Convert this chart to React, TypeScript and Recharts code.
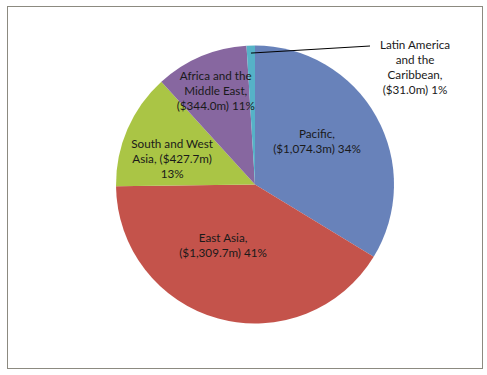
import { PieChart, Pie, Cell } from 'recharts'

// Aid by region, $m
const REGIONS = ['Pacific', 'East Asia', 'South and West Asia', 'Africa and the Middle East', 'Latin America and the Caribbean']
const AMOUNTS = [1074.3, 1309.7, 427.7, 344.0, 31.0]
const COLORS = ['#6882BA', '#C4534B', '#AAC545', '#8767A0', '#56B2C7']

// words per label line (Excel-style wrapping)
const WRAP = [[1, 2], [2, 2], [3, 2, 1], [3, 2, 2], [2, 2, 1, 2]]
// inside label placement: radius fraction, angle shift from slice middle
const LABEL_R = [0.545, 0.49, 0.626, 0.739]
const LABEL_SHIFT = [5.8, -12.6, 5.8, -0.5]

const data = REGIONS.map((name, i) => ({ name, value: AMOUNTS[i] }))
const FONT = 'Lato, "DejaVu Sans", sans-serif'
const LINE_H = 15
const RAD = Math.PI / 180

const fmt = (v: number) => v.toLocaleString('en-US', { minimumFractionDigits: 1, maximumFractionDigits: 1 })

function labelLines(index: number, name: string, value: number, percent: number) {
  const words = `${name}, ($${fmt(value)}m) ${Math.round(percent * 100)}%`.split(' ')
  const lines: string[] = []
  let k = 0
  WRAP[index].forEach(n => {
    lines.push(words.slice(k, k + n).join(' '))
    k += n
  })
  return lines
}

function renderLabel(props: any) {
  const { cx, cy, midAngle, outerRadius, index, name, value, percent } = props
  const lines = labelLines(index, name, value, percent)
  let x: number, y: number
  let leader = null
  if (index < LABEL_R.length) {
    const a = (midAngle + LABEL_SHIFT[index]) * RAD
    const r = outerRadius * LABEL_R[index]
    x = cx + r * Math.cos(a)
    y = cy - r * Math.sin(a)
  } else {
    // small slice: callout outside with a leader line
    const a = midAngle * RAD
    const r0 = outerRadius * 0.946
    const sx = cx + r0 * Math.cos(a)
    const sy = cy - r0 * Math.sin(a)
    const ex = cx + 115
    const ey = cy - 138.5
    leader = <line x1={sx} y1={sy} x2={ex} y2={ey} stroke="#000" strokeWidth={1} />
    x = cx + 160
    y = cy - 118
  }
  const top = y - ((lines.length - 1) * LINE_H) / 2
  return (
    <g key={`lbl-${index}`}>
      {leader}
      <text x={x} y={top} textAnchor="middle" dominantBaseline="central" fill="#1a1a1a" fontSize={11.7} fontFamily={FONT}>
        {lines.map((t, i) => (
          <tspan key={i} x={x} y={top + i * LINE_H}>{t}</tspan>
        ))}
      </text>
    </g>
  )
}

export default function App() {
  return (
    <div style={{ position: 'absolute', left: 0, top: 0, width: 487, height: 375, background: '#fff' }}>
      <div style={{ position: 'absolute', left: 7, top: 6, width: 474, height: 361, border: '1px solid #8c8a80' }} />
      <div style={{ position: 'absolute', left: 0, top: 0 }}>
        <PieChart width={487} height={375} margin={{ top: 0, right: 0, bottom: 0, left: 0 }}>
          <Pie
            data={data}
            dataKey="value"
            nameKey="name"
            cx={255}
            cy={184.5}
            outerRadius={139}
            startAngle={90}
            endAngle={-270}
            stroke="none"
            label={renderLabel}
            labelLine={false}
            isAnimationActive={false}
          >
            {data.map((d, i) => (
              <Cell key={d.name} fill={COLORS[i]} />
            ))}
          </Pie>
        </PieChart>
      </div>
    </div>
  )
}
